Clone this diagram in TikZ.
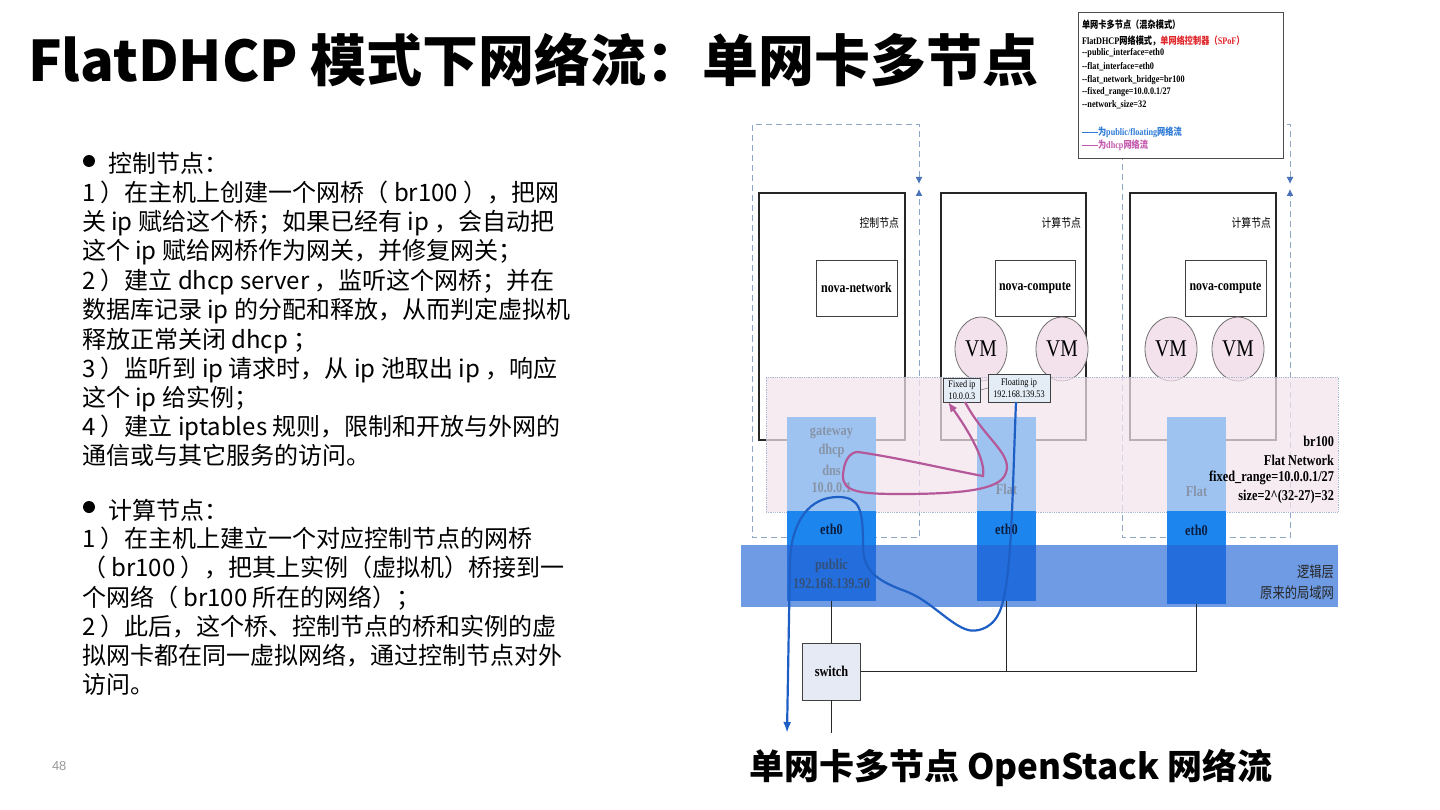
\documentclass[tikz,border=0pt]{standalone}
\usepackage{fontspec}
\setmainfont{Liberation Serif}
\newfontfamily\cjk{Noto Sans CJK SC}
\newfontfamily\lsans{Liberation Sans}
\newfontfamily\dser[FakeStretch=0.82]{Liberation Serif}
\newfontfamily\dcjk[FakeStretch=0.82]{Noto Sans CJK SC}
\usetikzlibrary{arrows.meta,shapes.geometric}
\definecolor{dashc}{HTML}{8FA6C6}
\definecolor{arrc}{HTML}{4A72B8}
\definecolor{pinkbg}{HTML}{F5E4EE}
\definecolor{pinkedge}{HTML}{A9B9D2}
\definecolor{lightblue}{HTML}{9EC3F0}
\definecolor{ethblue}{HTML}{1C86EE}
\definecolor{bandblue}{HTML}{6E9BE4}
\definecolor{pubblue}{HTML}{236EDC}
\definecolor{vmfill}{HTML}{F3E1EB}
\definecolor{flowblue}{HTML}{1E5FC6}
\definecolor{flowpink}{HTML}{B5589A}
\definecolor{graytxt}{HTML}{8794A8}
\definecolor{pubtxt}{HTML}{34507A}
\definecolor{ethtxt}{HTML}{0B1D40}
\definecolor{ipfill}{HTML}{E4ECF5}
\definecolor{swfill}{HTML}{E6EAF5}
\definecolor{legred}{HTML}{E0262A}
\definecolor{legblue}{HTML}{2F7BD8}
\definecolor{legpink}{HTML}{C45AAE}
\begin{document}
\begin{tikzpicture}[x=1pt,y=-1pt,
  every node/.style={inner sep=0pt,outer sep=0pt},
  txt/.style={anchor=base west,font=\cjk\fontsize{24}{29}\selectfont},
  dashbox/.style={draw=dashc,line width=1pt,dash pattern=on 6pt off 4pt,
     {Latex[length=7pt,width=7pt,color=arrc]}-{Latex[length=7pt,width=7pt,color=arrc]}},
  hostbox/.style={draw=black!85,line width=1.4pt,fill=white,anchor=north west},
  svcbox/.style={draw=black!75,line width=0.8pt,fill=white,minimum width=81pt,minimum height=56pt,
     font=\dser\bfseries\fontsize{14.5}{16}\selectfont},
  hostlbl/.style={anchor=east,font=\dcjk\fontsize{12}{14}\selectfont},
  vm/.style={ellipse,draw=black!55,line width=0.8pt,fill=vmfill,minimum width=52pt,minimum height=64pt,
     font=\dser\fontsize{24}{24}\selectfont},
  colpart/.style={anchor=north west,draw=none},
  dlbl/.style={font=\dser\bfseries\fontsize{15}{17}\selectfont},
  ipbox/.style={draw=black!75,line width=0.8pt,fill=ipfill,align=center,
     font=\dser\fontsize{10}{12}\selectfont},
  wire/.style={draw=black!85,line width=1.2pt},
  flowb/.style={draw=flowblue,line width=2.2pt},
  flowp/.style={draw=flowpink,line width=2.2pt},
  legtxt/.style={anchor=west,font=\dser\bfseries\fontsize{10}{12}\selectfont}
]
\useasboundingbox (0,0) rectangle (1440,810);
\fill[white] (0,0) rectangle (1440,810);

% ---------- title ----------
\node[anchor=west,font=\cjk\bfseries\fontsize{56}{60}\selectfont] (title) at (28,60) {FlatDHCP 模式下网络流：单网卡多节点};

% ---------- left text ----------
\fill (89,161) circle (6) coordinate (b1);
\node[txt] (c0) at (108,173) {控制节点：};
\node[txt] (c1) at (82,202) {1 ）在主机上创建一个网桥（ br100 ），把网};
\node[txt] (c2) at (82,231) {关 ip 赋给这个桥；如果已经有 ip ，会自动把};
\node[txt] (c3) at (82,260) {这个 ip 赋给网桥作为网关，并修复网关；};
\node[txt] (c4) at (82,290) {2 ）建立 dhcp server ，监听这个网桥；并在};
\node[txt] (c5) at (82,319) {数据库记录 ip 的分配和释放，从而判定虚拟机};
\node[txt] (c6) at (82,348) {释放正常关闭 dhcp ；};
\node[txt] (c7) at (82,377) {3 ）监听到 ip 请求时，从 ip 池取出 ip ，响应};
\node[txt] (c8) at (82,406) {这个 ip 给实例；};
\node[txt] (c9) at (82,435) {4 ）建立 iptables 规则，限制和开放与外网的};
\node[txt] (c10) at (82,464) {通信或与其它服务的访问。};

\fill (89,507) circle (6) coordinate (b2);
\node[txt] (k0) at (108,519) {计算节点：};
\node[txt] (k1) at (82,547) {1 ）在主机上建立一个对应控制节点的网桥};
\node[txt] (k2) at (82,576) {（ br100 ），把其上实例（虚拟机）桥接到一};
\node[txt] (k3) at (82,606) {个网络（ br100 所在的网络）；};
\node[txt] (k4) at (82,635) {2 ）此后，这个桥、控制节点的桥和实例的虚};
\node[txt] (k5) at (82,664) {拟网卡都在同一虚拟网络，通过控制节点对外};
\node[txt] (k6) at (82,693) {访问。};

\node[anchor=west,font=\lsans\fontsize{13}{13}\selectfont,text=black!40] (pg) at (52,766) {48};

% ---------- dashed host groups ----------
\draw[dashbox] (919,184) -- (919,125) -- (752,125) -- (752,537) -- (919,537) -- (919,189);
\draw[dashbox] (1290,184) -- (1290,125) -- (1122,125) -- (1122,537) -- (1290,537) -- (1290,189);

% ---------- hosts ----------
\node[hostbox,minimum width=146pt,minimum height=247pt] (h1) at (759,193) {};
\node[hostbox,minimum width=145pt,minimum height=247pt] (h2) at (941,193) {};
\node[hostbox,minimum width=146pt,minimum height=247pt] (h3) at (1130,193) {};
\node[hostlbl] (h1l) at (899,223) {控制节点};
\node[hostlbl] (h2l) at (1081,223) {计算节点};
\node[hostlbl] (h3l) at (1271,223) {计算节点};
\node[svcbox] (nn) at (856.5,288) {nova-network};
\node[svcbox,minimum width=80pt] (nc2) at (1035,288) {nova-compute};
\node[svcbox] (nc3) at (1225.5,288) {nova-compute};
\node[vm] (vm1) at (981,349) {VM};
\node[vm] (vm2) at (1062,349) {VM};
\node[vm] (vm3) at (1171,349) {VM};
\node[vm] (vm4) at (1238,349) {VM};

% ---------- br100 flat network region ----------
\node[anchor=north west,minimum width=572pt,minimum height=135pt,fill=pinkbg,fill opacity=0.72,
      draw=pinkedge,densely dotted,line width=0.8pt] (br) at (766,377) {};

% ---------- physical band ----------
\node[anchor=north west,minimum width=597pt,minimum height=62pt,fill=bandblue] (band) at (741,545) {};

% ---------- interface columns ----------
\node[colpart,fill=lightblue,minimum width=89pt,minimum height=94pt] (fl1) at (787,417) {};
\node[colpart,fill=ethblue,minimum width=89pt,minimum height=34pt] (e1) at (787,511) {};
\node[colpart,fill=pubblue,minimum width=89pt,minimum height=56pt] (p1) at (787,545) {};
\node[colpart,fill=lightblue,minimum width=59pt,minimum height=94pt] (fl2) at (977,417) {};
\node[colpart,fill=ethblue,minimum width=59pt,minimum height=34pt] (e2) at (977,511) {};
\node[colpart,fill=pubblue,minimum width=59pt,minimum height=56pt] (p2) at (977,545) {};
\node[colpart,fill=lightblue,minimum width=59pt,minimum height=94pt] (fl3) at (1167,417) {};
\node[colpart,fill=ethblue,minimum width=59pt,minimum height=34pt] (e3) at (1167,511) {};
\node[colpart,fill=pubblue,minimum width=59pt,minimum height=59pt] (p3) at (1167,545) {};

\node[dlbl,text=graytxt] (gw) at (831.5,433) {gateway};
\node[dlbl,text=graytxt] (dh) at (831.5,451) {dhcp};
\node[dlbl,text=graytxt] (dn) at (831.5,470) {dns};
\node[dlbl,text=graytxt] (ip1) at (831.5,488) {10.0.0.1};
\node[dlbl,text=graytxt] (ft2) at (1006.5,489) {Flat};
\node[dlbl,text=graytxt] (ft3) at (1196.5,491) {Flat};
\node[dlbl,text=ethtxt] (et1) at (831.5,529) {eth0};
\node[dlbl,text=ethtxt] (et2) at (1006.5,529) {eth0};
\node[dlbl,text=ethtxt] (et3) at (1196.5,530) {eth0};
\node[dlbl,text=pubtxt] (pb) at (831.5,566) {public};
\node[dlbl,text=pubtxt] (pbip) at (831.5,584) {192.168.139.50};

\node[dlbl,anchor=east] (r1) at (1334,441) {br100};
\node[dlbl,anchor=east] (r2) at (1334,460) {Flat Network};
\node[dlbl,anchor=east] (r3) at (1334,478) {fixed\_range=10.0.0.1/27};
\node[dlbl,anchor=east] (r4) at (1334,497) {size=2\^{}(32-27)=32};
\node[anchor=east,font=\dcjk\fontsize{15}{17}\selectfont,text=black!85] (lg1) at (1334,572) {逻辑层};
\node[anchor=east,font=\dcjk\fontsize{15}{17}\selectfont,text=black!85] (lg2) at (1334,593) {原来的局域网};

% ---------- ip labels ----------
\node[ipbox,minimum width=37pt,minimum height=24pt] (fix) at (962,390) {Fixed ip\\10.0.0.3};
\node[ipbox,minimum width=62pt,minimum height=28pt] (flt) at (1019,388) {Floating ip\\192.168.139.53};
\draw[black!50,line width=0.6pt] (fix.east) -- (flt.west);

% ---------- switch ----------
\node[draw=black!75,line width=0.9pt,fill=swfill,minimum width=58pt,minimum height=57pt,
      font=\dser\bfseries\fontsize{15}{17}\selectfont] (sw) at (831.5,671.5) {switch};
\coordinate (swdown) at (831.5,733);
\coordinate (j2) at (p2.south |- sw.east);
\coordinate (j3) at (p3.south |- sw.east);
\draw[wire] (p1.south) -- (sw.north);
\draw[wire] (sw.south) -- (swdown);
\draw[wire] (sw.east) -- (j3);
\draw[wire] (p2.south) -- (j2);
\draw[wire] (p3.south) -- (j3);

% ---------- flows ----------
\draw[flowp,-{Latex[length=10pt,width=8pt]}] ([xshift=3pt]fix.south) .. controls (985,440) and (1015,455) .. (1005,475)
   .. controls (998,490) and (960,494) .. (900,494)
   .. controls (860,494) and (842,492) .. (843,475)
   .. controls (844,460) and (850,452) .. (858,452)
   .. controls (900,458) and (950,470) .. (983,476)
   .. controls (986,460) and (968,430) .. ([xshift=-14pt]fix.south);

\coordinate (out) at (787,733);
\draw[flowb,-{Latex[length=11pt,width=8pt]}] ([xshift=-3pt]flt.south) .. controls (1012,500) and (1012,590) .. (998,615)
   .. controls (990,630) and (975,632) .. (968,630)
   .. controls (950,625) and (930,600) .. (905,591)
   .. controls (875,580) and (863,570) .. (863,545)
   .. controls (863,510) and (860,497) .. (838,497)
   .. controls (810,497) and (792,520) .. (790,560)
   -- (out);

% ---------- legend ----------
\node[anchor=north west,draw=black!70,line width=0.8pt,fill=white,minimum width=205pt,minimum height=146pt] (leg) at (1078,12) {};
\node[legtxt] (l1) at (1082,25) {\dcjk\fontsize{10}{12}\selectfont 单网卡多节点（混杂模式）};
\node[legtxt] (l2) at (1082,41) {FlatDHCP{\dcjk 网络模式，}\textcolor{legred}{{\dcjk 单网络控制器（}SPoF{\dcjk ）}}};
\node[legtxt] (l3) at (1082,53) {--public\_interface=eth0};
\node[legtxt] (l4) at (1082,67) {--flat\_interface=eth0};
\node[legtxt] (l5) at (1082,80) {--flat\_network\_bridge=br100};
\node[legtxt] (l6) at (1082,92) {--fixed\_range=10.0.0.1/27};
\node[legtxt] (l7) at (1082,105) {--network\_size=32};
\coordinate (lb0) at (1082,132);
\coordinate (lp0) at (1082,145);
\node[legtxt,text=legblue] (lb) at (1098,132) {{\dcjk 为}public/floating{\dcjk 网络流}};
\node[legtxt,text=legpink] (lp) at (1098,145) {{\dcjk 为}dhcp{\dcjk 网络流}};
\draw[legblue,line width=0.8pt] (lb0) -- (lb.west);
\draw[legpink,line width=0.8pt] (lp0) -- (lp.west);

% ---------- caption ----------
\node[font=\cjk\bfseries\fontsize{35}{38}\selectfont] (cap) at (1011,768) {单网卡多节点 OpenStack 网络流};
\end{tikzpicture}
\end{document}
